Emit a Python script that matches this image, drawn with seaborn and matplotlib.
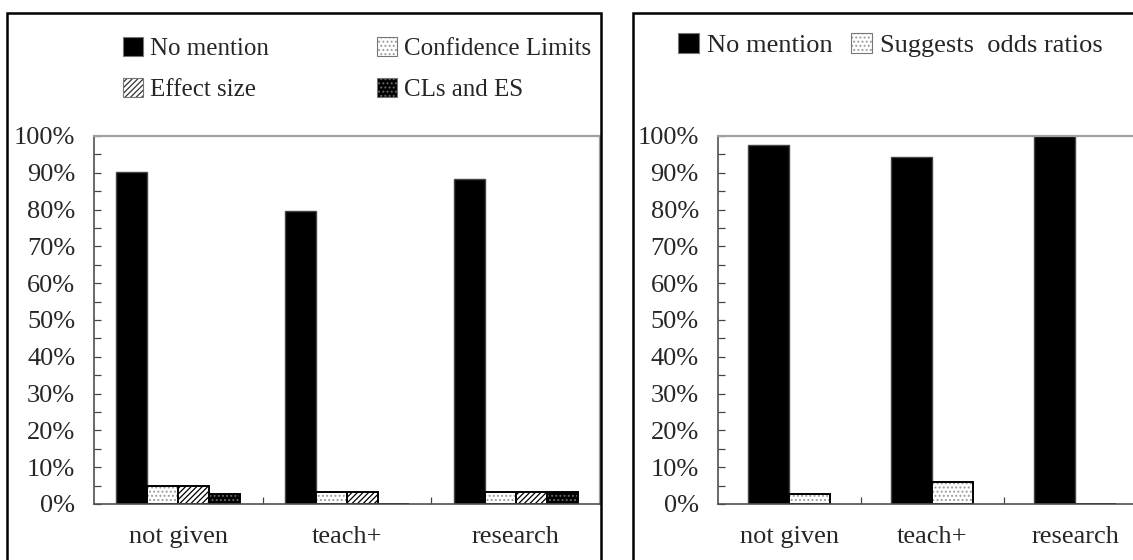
import matplotlib
matplotlib.use("Agg")
import matplotlib.pyplot as plt
import seaborn as sns
import pandas as pd
from matplotlib.patches import Patch, Rectangle
from matplotlib.ticker import PercentFormatter, MultipleLocator, FixedLocator
from matplotlib.colors import to_rgba

# ---------------- data ----------------
categories = ["not given", "teach+", "research"]

left_series = ["No mention", "Confidence Limits", "Effect size", "CLs and ES"]
no_mention_left = [90.3, 79.5, 88.2]
confidence_limits = [5.0, 3.3, 3.3]
effect_size = [5.0, 3.3, 3.3]
cls_and_es = [2.7, 0.0, 3.3]

right_series = ["No mention", "Suggests  odds ratios"]
no_mention_right = [97.5, 94.3, 100.0]
suggests_odds = [2.6, 6.0, 0.0]

yticks = [0, 10, 20, 30, 40, 50, 60, 70, 80, 90, 100]

# ---------------- style ----------------
sns.set_style("white")
plt.rcParams["font.family"] = ["Liberation Serif", "DejaVu Serif"]
plt.rcParams["hatch.linewidth"] = 0.9
FS = 19
LFS = 18

# fill styles: (facecolor, edgecolor, hatch, hatchcolor)
styles = {
    "No mention": ("black", "#444444", None, None),
    "Confidence Limits": ("white", "black", "....", "#9a9a9a"),
    "Effect size": ("white", "black", "//////", "black"),
    "CLs and ES": ("black", "black", "....", "#6a6a6a"),
    "Suggests  odds ratios": ("white", "black", "....", "#9a9a9a"),
}


def set_hc(p, hc):
    if hasattr(p, "set_hatchcolor"):
        p.set_hatchcolor(hc)
    else:
        p._hatch_color = to_rgba(hc)


def style_patch(p, name, lw=1.2):
    fc, ec, hatch, hc = styles[name]
    p.set_facecolor(fc)
    p.set_edgecolor(ec)
    p.set_linewidth(lw)
    if hatch:
        p.set_hatch(hatch)
        set_hc(p, hc)


def make_df(series, columns):
    rows = []
    for s, vals in zip(series, columns):
        for c, v in zip(categories, vals):
            rows.append({"category": c, "series": s, "value": v})
    return pd.DataFrame(rows)


W, H = 1133, 560
fig = plt.figure(figsize=(W / 100, H / 100), dpi=100)

# panel frames
fig.patches.append(Rectangle((7 / W, -0.05), (601 - 7) / W, 1.05 - 12.7 / H,
                             transform=fig.transFigure, fill=False,
                             edgecolor="black", linewidth=1.8, zorder=0))
fig.patches.append(Rectangle((633 / W, -0.05), 0.5, 1.05 - 12.7 / H,
                             transform=fig.transFigure, fill=False,
                             edgecolor="black", linewidth=1.8, zorder=0))

ax_bottom = 1 - 504 / H
ax_height = (504 - 136) / H
axL = fig.add_axes([94 / W, ax_bottom, (600 - 94) / W, ax_height])
axR = fig.add_axes([717.5 / W, ax_bottom, 429 / W, ax_height])


def setup_axes(ax, df, series, width):
    sns.barplot(data=df, x="category", y="value", hue="series",
                hue_order=series, order=categories, ax=ax, width=width,
                gap=0, legend=False, palette=["black"] * len(series),
                saturation=1)
    for cont, name in zip(ax.containers, series):
        for p in cont.patches:
            style_patch(p, name, lw=1.0 if name == "No mention" else 1.4)
    ax.set_xlim(-0.5, 2.5)
    ax.set_ylim(0, 100)
    ax.set_xlabel("")
    ax.set_ylabel("")
    ax.yaxis.set_major_locator(FixedLocator(yticks))
    ax.yaxis.set_minor_locator(MultipleLocator(5))
    ax.yaxis.set_major_formatter(PercentFormatter(100, decimals=0))
    ax.xaxis.set_minor_locator(FixedLocator([0.5, 1.5]))
    ax.tick_params(axis="y", which="both", direction="in", length=5,
                   width=0.9, color="#444444", left=True, pad=13.5,
                   labelsize=FS)
    ax.tick_params(axis="x", which="major", length=0, pad=16, labelsize=FS)
    ax.tick_params(axis="x", which="minor", direction="in", length=5,
                   width=0.9, color="#444444", bottom=True)
    for side in ["left", "bottom"]:
        ax.spines[side].set_color("#505050")
        ax.spines[side].set_linewidth(1.2)
    for side in ["top", "right"]:
        ax.spines[side].set_color("#a0a0a0")
        ax.spines[side].set_linewidth(1.6)
        ax.spines[side].set_visible(True)
    ax.set_facecolor("white")


dfL = make_df(left_series, [no_mention_left, confidence_limits, effect_size, cls_and_es])
dfR = make_df(right_series, [no_mention_right, suggests_odds])
setup_axes(axL, dfL, left_series, 0.734)
setup_axes(axR, dfR, right_series, 0.573)


def legend_handles(series):
    hs = []
    for name in series:
        fc, ec, hatch, hc = styles[name]
        h = Patch(facecolor=fc, edgecolor="#777777", hatch=hatch, linewidth=0.8)
        if hatch:
            set_hc(h, hc if name != "Effect size" else "#333333")
        hs.append(h)
    return hs


# legend filled column-wise: order so rows read
# [No mention, Confidence Limits] / [Effect size, CLs and ES]
left_legend_order = ["No mention", "Effect size", "Confidence Limits", "CLs and ES"]
legL = fig.legend(legend_handles(left_legend_order), left_legend_order, ncol=2,
                  loc="center", bbox_to_anchor=(357 / W, 1 - 69 / H),
                  frameon=False, fontsize=LFS, handlelength=0.8,
                  handleheight=0.8, handletextpad=0.3, columnspacing=4.3,
                  labelspacing=0.7)
legR = fig.legend(legend_handles(right_series), right_series, ncol=2,
                  loc="center", bbox_to_anchor=(890 / W, 1 - 45 / H),
                  frameon=False, fontsize=FS, handlelength=0.8,
                  handleheight=0.8, handletextpad=0.3, columnspacing=0.7)

fig.savefig("out.png", dpi=100, facecolor="white")
